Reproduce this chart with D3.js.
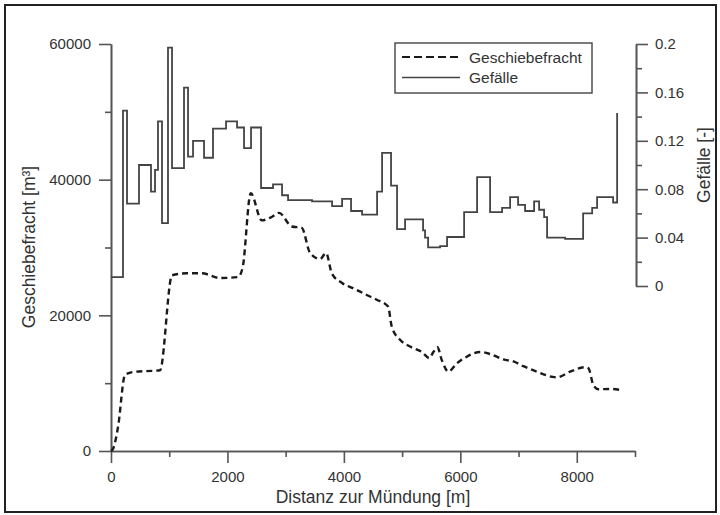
<!DOCTYPE html>
<html lang="de">
<head>
<meta charset="UTF-8" />
<title>Geschiebefracht und Gefälle</title>
<style>
  body { margin: 0; background: #fff; }
  svg { display: block; font-family: "Liberation Sans", Arial, sans-serif; }
  .tick text { fill: #333; }
</style>
</head>
<body>
<div id="chart"></div>
<script src="https://d3js.org/d3.v7.min.js"></script>
<script>
// Geschiebefracht (dashed), distance [m] / load [m3]
const frachtDist = [0, 34, 120, 240, 378, 842, 1048, 1300, 1560, 1873, 2182, 2260, 2400, 2589, 2761, 2886, 3104, 3276, 3419, 3591, 3694, 3792, 3963, 4158, 4393, 4565, 4759, 4823, 4965, 5137, 5338, 5468, 5537, 5606, 5682, 5795, 5939, 6111, 6340, 6511, 6740, 6912, 7083, 7313, 7571, 7657, 7886, 8143, 8200, 8286, 8372, 8573, 8745];
const frachtVal = [0, 300, 3500, 11200, 11650, 11900, 25900, 26200, 26200, 25500, 25650, 27000, 38000, 34000, 34500, 35100, 33100, 32900, 29200, 28300, 29200, 26200, 24800, 24000, 23000, 22300, 21300, 18300, 16400, 15400, 14600, 13700, 14600, 15300, 13400, 11700, 12900, 13900, 14600, 14300, 13500, 13200, 12500, 11700, 10950, 10850, 11700, 12350, 12200, 9700, 9100, 9150, 9000];

// Gefälle (step line), segment start distance [m] / slope [-]
const gefDist = [0, 206, 275, 481, 687, 756, 807, 876, 979, 1048, 1254, 1323, 1409, 1598, 1752, 1976, 2165, 2285, 2405, 2577, 2783, 2938, 3041, 3453, 3797, 3969, 4123, 4312, 4570, 4656, 4810, 4913, 5051, 5360, 5394, 5446, 5652, 5772, 6065, 6288, 6511, 6717, 6855, 6992, 7112, 7267, 7353, 7439, 7490, 7800, 8109, 8264, 8349, 8624, 8693];
const gefVal = [0.0074, 0.145, 0.068, 0.100, 0.078, 0.096, 0.136, 0.052, 0.197, 0.0975, 0.164, 0.107, 0.120, 0.106, 0.130, 0.136, 0.131, 0.114, 0.131, 0.081, 0.084, 0.075, 0.071, 0.070, 0.066, 0.072, 0.062, 0.059, 0.078, 0.110, 0.083, 0.047, 0.055, 0.046, 0.040, 0.032, 0.033, 0.0405, 0.061, 0.090, 0.061, 0.0645, 0.0735, 0.067, 0.062, 0.070, 0.063, 0.057, 0.040, 0.039, 0.060, 0.0645, 0.0735, 0.069, 0.143];

const xMajor = [0, 2000, 4000, 6000, 8000];
const xMinor = [1000, 3000, 5000, 7000, 9000];
const yMajor = [0, 20000, 40000, 60000];
const yMinor = [10000, 30000, 50000];
const y2Major = [0, 0.04, 0.08, 0.12, 0.16, 0.2];
const y2Minor = [0.02, 0.06, 0.10, 0.14, 0.18];

const width = 720, height = 515;

const svg = d3.select("#chart").append("svg")
  .attr("width", width).attr("height", height);

// outer frame
svg.append("rect")
  .attr("x", 5).attr("y", 5).attr("width", 711).attr("height", 507)
  .attr("fill", "none").attr("stroke", "#222").attr("stroke-width", 2);

const x = d3.scaleLinear().domain([0, 9000]).range([111, 635]);
const y = d3.scaleLinear().domain([0, 60000]).range([451, 44]);
const y2 = d3.scaleLinear().domain([0, 0.2]).range([286, 44]);

function styleAxis(g) {
  g.select(".domain").attr("stroke", "#555").attr("stroke-width", 1.6);
  g.selectAll(".tick line").attr("stroke", "#555").attr("stroke-width", 1.6);
  g.selectAll(".tick text").attr("font-size", 15);
}

// x axis
svg.append("g").attr("transform", "translate(0,451)")
  .call(d3.axisBottom(x).tickValues(xMinor).tickSize(6).tickFormat("").tickSizeOuter(0))
  .call(styleAxis);
svg.append("g").attr("transform", "translate(0,451)")
  .call(d3.axisBottom(x).tickValues(xMajor).tickSize(12).tickPadding(8).tickFormat(d3.format("d")).tickSizeOuter(0))
  .call(styleAxis);

// left axis
svg.append("g").attr("transform", "translate(111,0)")
  .call(d3.axisLeft(y).tickValues(yMinor).tickSize(6).tickFormat("").tickSizeOuter(0))
  .call(styleAxis);
svg.append("g").attr("transform", "translate(111,0)")
  .call(d3.axisLeft(y).tickValues(yMajor).tickSize(12).tickPadding(8).tickFormat(d3.format("d")).tickSizeOuter(0))
  .call(styleAxis);

// right axis
svg.append("g").attr("transform", "translate(636,0)")
  .call(d3.axisRight(y2).tickValues(y2Minor).tickSize(6).tickFormat("").tickSizeOuter(0))
  .call(styleAxis);
svg.append("g").attr("transform", "translate(636,0)")
  .call(d3.axisRight(y2).tickValues(y2Major).tickSize(12).tickPadding(7).tickFormat(d => d === 0 ? "0" : String(+d.toFixed(2))).tickSizeOuter(0))
  .call(styleAxis);

// axis titles
svg.append("text")
  .attr("x", 373).attr("y", 503)
  .attr("text-anchor", "middle").attr("font-size", 17.5).attr("fill", "#333")
  .text("Distanz zur Mündung [m]");
svg.append("text")
  .attr("transform", "translate(35,247) rotate(-90)")
  .attr("text-anchor", "middle").attr("font-size", 17.5).attr("fill", "#333")
  .text("Geschiebefracht [m³]");
svg.append("text")
  .attr("transform", "translate(710,165) rotate(-90)")
  .attr("text-anchor", "middle").attr("font-size", 17.5).attr("fill", "#333")
  .text("Gefälle [-]");

// Gefälle step line
const gefData = gefDist.map((d, i) => [d, gefVal[i]]);
svg.append("path")
  .datum(gefData)
  .attr("fill", "none")
  .attr("stroke", "#444")
  .attr("stroke-width", 1.8)
  .attr("d", d3.line().x(d => x(d[0])).y(d => y2(d[1])).curve(d3.curveStepAfter));

// Geschiebefracht dashed line
const frachtData = frachtDist.map((d, i) => [d, frachtVal[i]]);
svg.append("path")
  .datum(frachtData)
  .attr("fill", "none")
  .attr("stroke", "#1a1a1a")
  .attr("stroke-width", 2.4)
  .attr("stroke-dasharray", "6,4")
  .attr("d", d3.line().x(d => x(d[0])).y(d => y(d[1])).curve(d3.curveMonotoneX));

// legend
const legend = svg.append("g");
legend.append("rect")
  .attr("x", 395).attr("y", 43).attr("width", 197).attr("height", 50)
  .attr("fill", "#fff").attr("stroke", "#444").attr("stroke-width", 1.4);
const legendItems = [
  { label: "Geschiebefracht", dash: "8,4", color: "#1a1a1a", w: 2.2, ly: 57 },
  { label: "Gefälle", dash: null, color: "#444", w: 1.6, ly: 77.5 }
];
legendItems.forEach(it => {
  legend.append("line")
    .attr("x1", 402).attr("x2", 460).attr("y1", it.ly).attr("y2", it.ly)
    .attr("stroke", it.color).attr("stroke-width", it.w)
    .attr("stroke-dasharray", it.dash);
  legend.append("text")
    .attr("x", 469).attr("y", it.ly + 5.5)
    .attr("font-size", 15.5).attr("fill", "#333")
    .text(it.label);
});
</script>
</body>
</html>
